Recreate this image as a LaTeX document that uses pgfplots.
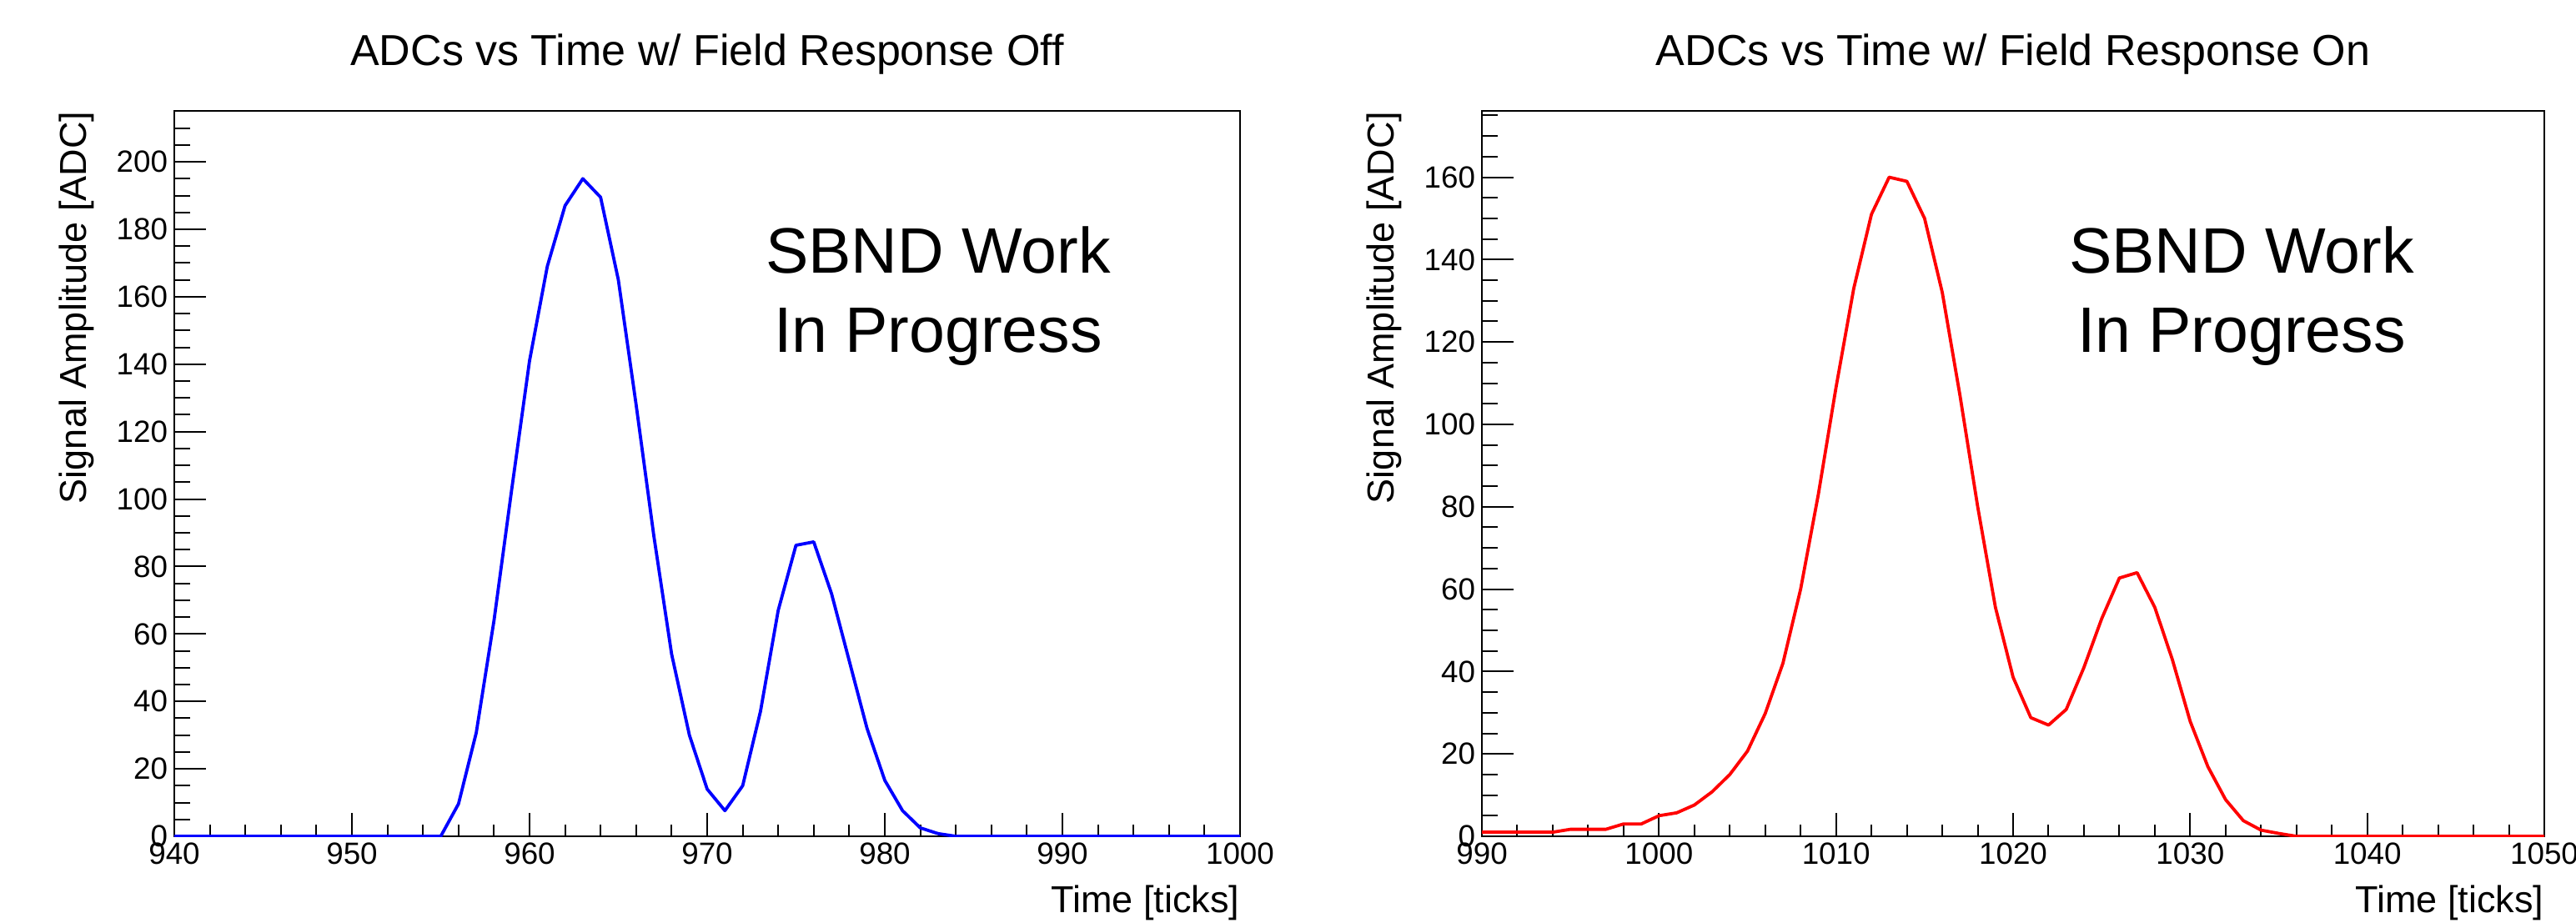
\documentclass[border=0pt]{standalone}
\usepackage{fontspec}
\setmainfont{Liberation Sans}
\usepackage{pgfplots}
\pgfplotsset{compat=1.18}

% ADC waveforms, one sample per tick
\pgfplotstableread{
t adc
940 0
945 0
950 0
954 0
955 0
956 9.6
957 30.7
958 64
959 103
960 141
961 169
962 187
963 195
964 189.5
965 165
966 128
967 89
968 54
969 30
970 14
971 7.6
972 15
973 37
974 67
975 86.3
976 87.3
977 72
978 52
979 32
980 16.6
981 7.6
982 2.5
983 0.8
984 0
990 0
1000 0
}\fieldoff

\pgfplotstableread{
t adc
990 1.0
991 1.0
992 1.0
993 1.0
994 1.0
995 1.7
996 1.7
997 1.7
998 3.0
999 3.0
1000 5.0
1001 5.7
1002 7.6
1003 10.8
1004 15.0
1005 20.7
1006 29.8
1007 42
1008 60
1009 83
1010 109
1011 133
1012 151
1013 160
1014 159
1015 150
1016 132
1017 107
1018 80
1019 55.6
1020 38.6
1021 28.8
1022 27
1023 30.8
1024 41
1025 52.8
1026 62.7
1027 64
1028 55.6
1029 42.8
1030 27.9
1031 16.9
1032 8.9
1033 3.8
1034 1.5
1035 0.7
1036 0
1040 0
1050 0
}\fieldon

\pgfplotsset{
  rootstyle/.style={
    scale only axis, width=319.5pt, height=217.5pt,
    axis line style={black, line width=0.6pt},
    tick align=inside, xtick pos=bottom, ytick pos=left,
    xtick distance=10, minor x tick num=4,
    ytick distance=20, minor y tick num=3,
    ymin=0,
    xtick style={black, line width=0.5pt, /pgfplots/major tick length=7pt, /pgfplots/minor tick length=3.6pt},
    ytick style={black, line width=0.5pt, /pgfplots/major tick length=9.5pt, /pgfplots/minor tick length=4.8pt},
    /pgf/number format/assume math mode=true,
    /pgf/number format/set thousands separator={},
    tick label style={font=\fontsize{9.2}{10.5}\selectfont},
    yticklabel style={inner sep=1.8pt},
    xticklabel style={inner sep=1.8pt},
    every axis title shift=0pt,
    title style={at={(axis description cs:0.5,1.0632)}, anchor=base, inner sep=0pt,
      font=\fontsize{13}{15}\selectfont},
    xlabel style={at={(axis description cs:1,-0.1057)}, anchor=base east, inner sep=0pt,
      font=\fontsize{11.25}{13}\selectfont},
    ylabel style={at={(axis description cs:-0.0829,1)}, anchor=base east, inner sep=0pt,
      font=\fontsize{11.25}{13}\selectfont},
    xlabel={Time [ticks]}, ylabel={Signal Amplitude [ADC]},
  },
}
\tikzset{wip/.style={font=\fontsize{19.25}{22}\selectfont, anchor=base, inner sep=0pt}}

\begin{document}
\begin{tikzpicture}
\path[use as bounding box] (-52.25pt,-25.75pt) rectangle (720pt,250.75pt);

\begin{axis}[rootstyle, at={(0pt,0pt)}, anchor=south west,
  xmin=940, xmax=1000, ymax=215.1,
  title={ADCs vs Time w/ Field Response Off}]
\addplot[blue, line width=0.95pt, line join=round] table[x=t, y=adc] {\fieldoff};
\node[wip] at (axis description cs:0.7167,0.7759) {SBND Work};
\node[wip] at (axis description cs:0.7167,0.6667) {In Progress};
\end{axis}

\begin{axis}[rootstyle, at={(392pt,0pt)}, anchor=south west, width=318.5pt,
  xmin=990, xmax=1050, ymax=176.1,
  title={ADCs vs Time w/ Field Response On}]
\addplot[red, line width=0.95pt, line join=round] table[x=t, y=adc] {\fieldon};
\node[wip] at (axis description cs:0.715,0.7759) {SBND Work};
\node[wip] at (axis description cs:0.715,0.6667) {In Progress};
\end{axis}
\end{tikzpicture}
\end{document}
